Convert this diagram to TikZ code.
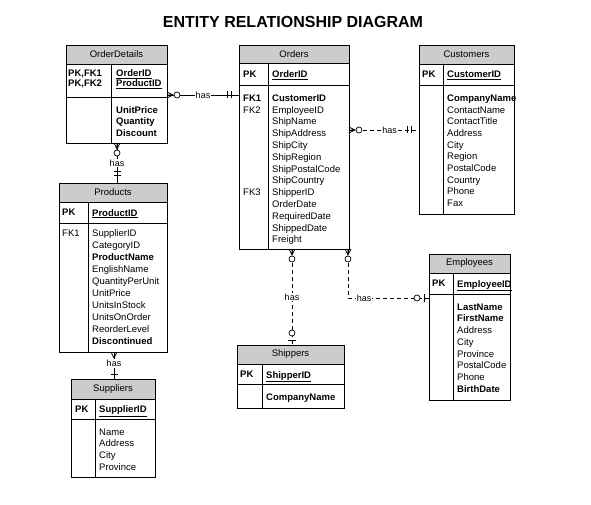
\documentclass[tikz,border=0pt]{standalone}
\usepackage{fontspec}
\setmainfont{Liberation Sans}
\tikzset{
  many/.pic={\draw[line width=.7pt] (0,-3) -- (6,0) -- (0,3) (0,0) -- (6,0);
             \draw[line width=.7pt,fill=white] (10,0) circle (3);},
  crow/.pic={\draw[line width=.7pt] (0,-3) -- (6,0) -- (0,3);},
  one/.pic={\draw[line width=.7pt] (8,-3.5) -- (8,3.5) (11.5,-3.5) -- (11.5,3.5);},
  zeroone/.pic={\draw[line width=.7pt] (5,-4) -- (5,4);
                \draw[line width=.7pt,fill=white] (12,0) circle (3);},
  single/.pic={\draw[line width=.7pt] (4.5,-3.5) -- (4.5,3.5);},
}
\tikzstyle{ebox}=[draw,line width=.9pt,anchor=north west,outer sep=0pt,inner sep=0pt]
\tikzstyle{ehead}=[ebox,fill=gray!40]
\tikzstyle{fld}=[anchor=north west,inner sep=0pt,align=left]
\tikzstyle{rel}=[line width=.7pt]
\tikzstyle{reldash}=[rel,dash pattern=on 4pt off 3pt]
\tikzstyle{lbl}=[fill=white,inner sep=1pt,font=\fontsize{9}{10}\selectfont]
\tikzstyle{heading}=[font=\bfseries\fontsize{16}{19}\selectfont]
\tikzstyle{every node}=[font=\fontsize{9.5}{11.7}\selectfont]
% name, x, y, width, height, head height, key height, divider, title
\newcommand{\entity}[9]{%
  \node[ehead,minimum width=#4,minimum height=#6] (#1h) at (#2,#3) {#9};
  \node[ebox,minimum width=#4,minimum height=#5] (#1) at (#2,#3) {};
  \draw[line width=.9pt] (#1.west |- 0,#3+#6+#7) -- (#1.east |- 0,#3+#6+#7);
  \draw[line width=.9pt] (#2+#8,#3+#6) -- (#2+#8,#3+#5);
}

\begin{document}
\begin{tikzpicture}[x=1pt,y=-1pt]
    \useasboundingbox (0,0) rectangle (591,505);
    \node[heading] (title) at (293,22) {ENTITY RELATIONSHIP DIAGRAM};

    % OrderDetails
    \entity{od}{66}{45}{101}{98}{19}{33}{45}{OrderDetails}
    \node[fld,font=\bfseries\fontsize{9.5}{10}\selectfont] (odpk) at (68,69.5) {PK,FK1\\PK,FK2};
    \node[fld,font=\bfseries\fontsize{9.5}{10}\selectfont] (odkey) at (116,69.5) {\underline{OrderID}\\\underline{ProductID}};
    \node[fld,font=\bfseries\fontsize{9.5}{11.3}\selectfont] (odrows) at (116,106.5) {UnitPrice\\Quantity\\Discount};

    % Orders
    \entity{orders}{239}{45}{110}{204}{18}{22}{29}{Orders}
    \node[fld,font=\bfseries\fontsize{9.5}{11.7}\selectfont] (ordpk) at (243,70.5) {PK};
    \node[fld,font=\bfseries\fontsize{9.5}{11.7}\selectfont] (ordkey) at (272,70.5) {\underline{OrderID}};
    \node[fld,font=\fontsize{9.5}{11.8}\selectfont] (ordfk) at (243,94.5) {\textbf{FK1}\\FK2};
    \node[fld] (ordfk3) at (243,189) {FK3};
    \node[fld,font=\fontsize{9.5}{11.8}\selectfont] (ordrows) at (272,94.5) {\textbf{CustomerID}\\EmployeeID\\ShipName\\ShipAddress\\ShipCity\\ShipRegion\\ShipPostalCode\\ShipCountry\\ShipperID\\OrderDate\\RequiredDate\\ShippedDate\\Freight};

    % Customers
    \entity{cust}{419}{45}{95}{169}{19}{21}{24}{Customers}
    \node[fld,font=\bfseries\fontsize{9.5}{11.7}\selectfont] (custpk) at (422,70.5) {PK};
    \node[fld,font=\bfseries\fontsize{9.5}{11.7}\selectfont] (custkey) at (447,70.5) {\underline{CustomerID}};
    \node[fld] (custrows) at (447,94.5) {\textbf{CompanyName}\\ContactName\\ContactTitle\\Address\\City\\Region\\PostalCode\\Country\\Phone\\Fax};

    % Products
    \entity{prod}{59}{183}{108}{169}{19}{21}{29}{Products}
    \node[fld,font=\bfseries\fontsize{9.5}{11.7}\selectfont] (prodpk) at (62,209) {PK};
    \node[fld,font=\bfseries\fontsize{9.5}{11.7}\selectfont] (prodkey) at (92,209) {\underline{ProductID}};
    \node[fld] (prodfk) at (62,229.5) {FK1};
    \node[fld,font=\fontsize{9.5}{12}\selectfont] (prodrows) at (92,229.5) {SupplierID\\CategoryID\\\textbf{ProductName}\\EnglishName\\QuantityPerUnit\\UnitPrice\\UnitsInStock\\UnitsOnOrder\\ReorderLevel\\\textbf{Discontinued}};

    % Suppliers
    \entity{supp}{71}{379}{84}{98}{20}{20}{24}{Suppliers}
    \node[fld,font=\bfseries\fontsize{9.5}{11.7}\selectfont] (supppk) at (75,405.5) {PK};
    \node[fld,font=\bfseries\fontsize{9.5}{11.7}\selectfont] (suppkey) at (99,405.5) {\underline{SupplierID}};
    \node[fld] (supprows) at (99,428.5) {Name\\Address\\City\\Province};

    % Shippers
    \entity{ship}{237}{345}{107}{63}{19}{20}{25}{Shippers}
    \node[fld,font=\bfseries\fontsize{9.5}{11.7}\selectfont] (shippk) at (240,371) {PK};
    \node[fld,font=\bfseries\fontsize{9.5}{11.7}\selectfont] (shipkey) at (266,371) {\underline{ShipperID}};
    \node[fld,font=\bfseries\fontsize{9.5}{11.7}\selectfont] (shiprows) at (266,393.5) {CompanyName};

    % Employees
    \entity{emp}{429}{254}{81}{146}{19}{21}{24}{Employees}
    \node[fld,font=\bfseries\fontsize{9.5}{11.7}\selectfont] (emppk) at (432,280) {PK};
    \node[fld,font=\bfseries\fontsize{9.5}{11.7}\selectfont] (empkey) at (457,280) {\underline{EmployeeID}};
    \node[fld] (emprows) at (457,303.5) {\textbf{LastName}\\\textbf{FirstName}\\Address\\City\\Province\\PostalCode\\Phone\\\textbf{BirthDate}};

    % relationships
    \draw[rel] (od.east |- 0,95) -- node[lbl] (has1) {has} (orders.west |- 0,95);
    \pic at (od.east |- 0,95) {many};
    \pic[rotate=180] at (orders.west |- 0,95) {one};

    \draw[rel] (117,0 |- od.south) -- node[lbl] (has2) {has} (117,0 |- prod.north);
    \pic[rotate=-90] at (117,0 |- od.south) {many};
    \pic[rotate=90] at (117,0 |- prod.north) {one};

    \draw[reldash] (orders.east |- 0,130) -- node[lbl,pos=.58] (has3) {has} (cust.west |- 0,130);
    \pic at (orders.east |- 0,130) {many};
    \pic[rotate=180] at (cust.west |- 0,130) {one};

    \draw[rel] (114,0 |- prod.south) -- node[lbl,pos=.42] (has4) {has} (114,0 |- supp.north);
    \pic[rotate=-90] at (114,0 |- prod.south) {crow};
    \pic[rotate=90] at (114,0 |- supp.north) {single};

    \draw[reldash] (292,0 |- orders.south) -- node[lbl] (has5) {has} (292,0 |- ship.north);
    \pic[rotate=-90] at (292,0 |- orders.south) {many};
    \pic[rotate=90] at (292,0 |- ship.north) {zeroone};

    \draw[reldash] (348,0 |- orders.south) |- node[lbl,pos=.6] (has6) {has} (emp.west |- 0,298);
    \pic[rotate=-90] at (348,0 |- orders.south) {many};
    \pic[rotate=180] at (emp.west |- 0,298) {zeroone};
\end{tikzpicture}
\end{document}
